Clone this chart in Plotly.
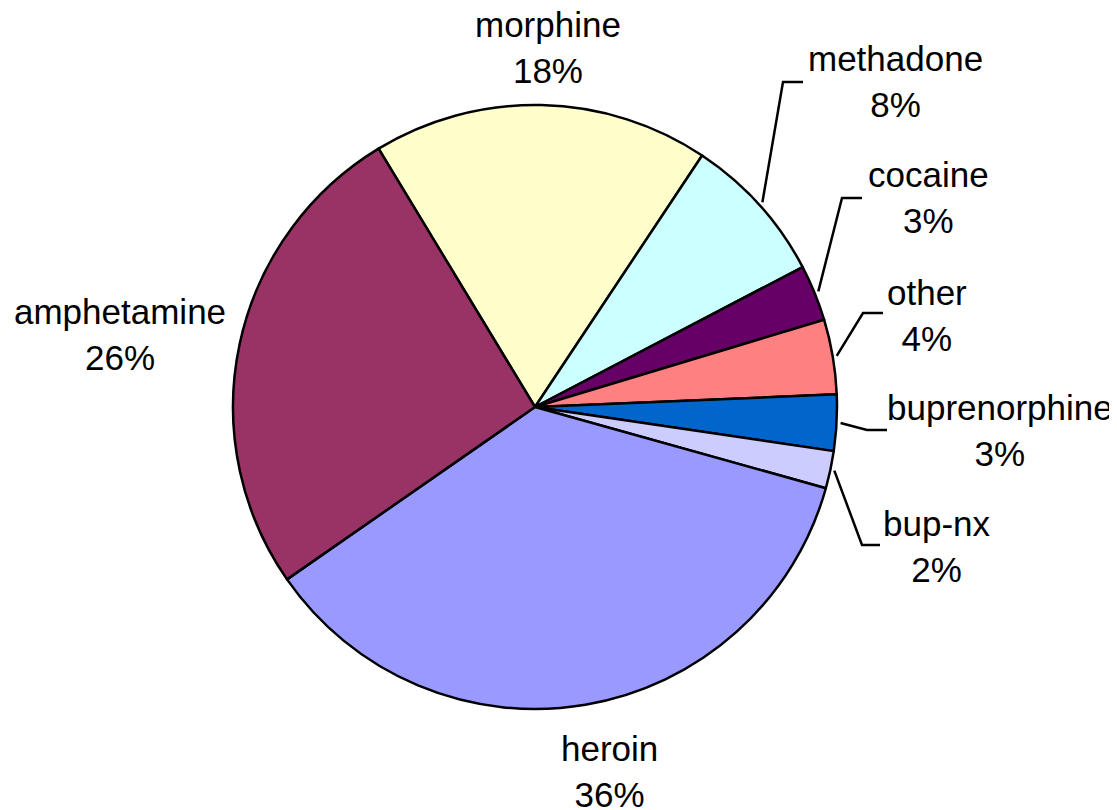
import math
import plotly.graph_objects as go

# ---- data ----
labels = ["morphine", "methadone", "cocaine", "other", "buprenorphine", "bup-nx", "heroin", "amphetamine"]
values = [18, 8, 3, 4, 3, 2, 36, 26]
colors = ["#FFFFCC", "#CCFFFF", "#660066", "#FF8080", "#0066CC", "#CCCCFF", "#9999FF", "#993366"]

# ---- layout config (pixels, in the screenshot frame) ----
W, H = 1117, 810
OFF = 8  # page body margin
CX, CY, R = 535, 407, 302
ROTATION = -31.2
FONT = dict(family="Liberation Sans, Arial, sans-serif", size=35, color="black")
# label block centres (px) and leader elbow points (px), None = no leader
label_pos = {
    "morphine": (548, 47, None),
    "methadone": (895, 82, (783, 82, 803)),
    "cocaine": (928, 198, (842, 198, 862)),
    "other": (927, 315, (863, 313, 883)),
    "buprenorphine": (1000, 430, (867, 430, 887)),
    "bup-nx": (937, 546, (862, 545, 880)),
    "heroin": (610, 771, None),
    "amphetamine": (120, 334, None),
}

def px(x):
    return (x - OFF) / W

def py(y):
    return 1 - (y - OFF) / H

fig = go.Figure(go.Pie(
    labels=labels, values=values, sort=False, direction="clockwise",
    rotation=ROTATION, textinfo="none", hoverinfo="none",
    marker=dict(colors=colors, line=dict(color="black", width=2.5)),
    domain=dict(x=[px(CX - R), px(CX + R)], y=[py(CY + R), py(CY - R)]),
    showlegend=False,
))

total = sum(values)
annotations = []
shapes = []
cum = 0.0
for lab, v in zip(labels, values):
    mid = ROTATION + (cum + v / 2) / total * 360
    cum += v
    lx, ly, leader = label_pos[lab]
    annotations.append(dict(
        x=px(lx), y=py(ly), xref="paper", yref="paper",
        text=f"{lab}<br>{v / total * 100:.0f}%", showarrow=False,
        font=FONT, align="center", xanchor="center", yanchor="middle",
    ))
    if leader:
        a = math.radians(mid)
        sx = CX + (R + 4) * math.sin(a)
        sy = CY - (R + 4) * math.cos(a)
        ex, ey, hx = leader
        path = f"M {px(sx)} {py(sy)} L {px(ex)} {py(ey)} L {px(hx)} {py(ey)}"
        shapes.append(dict(type="path", path=path, xref="paper", yref="paper",
                           line=dict(color="black", width=2.5)))

fig.update_layout(
    width=W, height=H, margin=dict(l=0, r=0, t=0, b=0),
    paper_bgcolor="white", plot_bgcolor="white",
    annotations=annotations, shapes=shapes,
)
fig.write_html("out.html")
